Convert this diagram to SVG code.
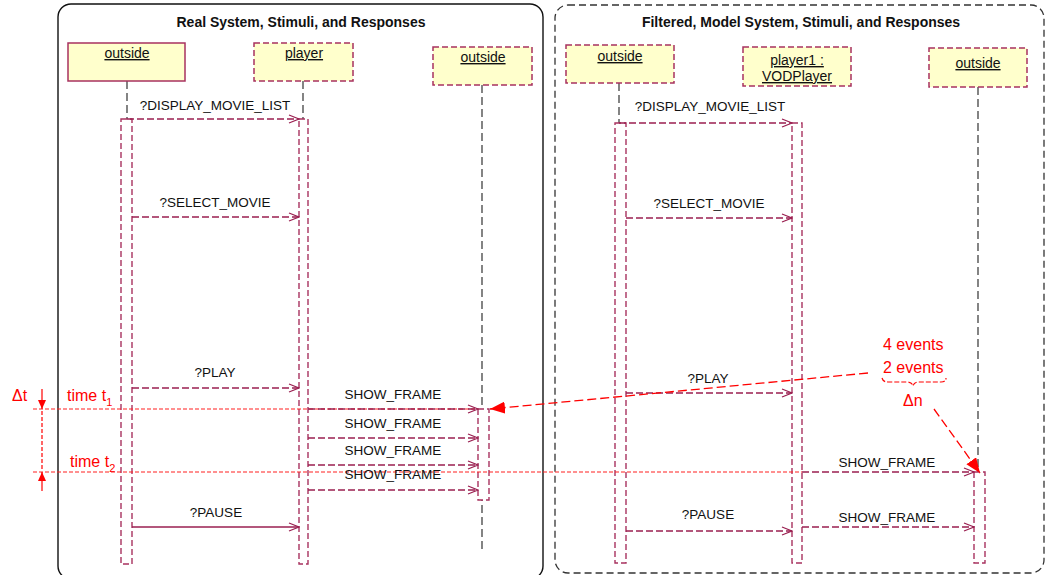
<svg xmlns="http://www.w3.org/2000/svg" width="1047" height="575" viewBox="0 0 1047 575">
<defs>
<style>
.title{font-family:"Liberation Sans",Arial,sans-serif;font-size:14px;font-weight:bold;fill:#111;text-anchor:middle}
.nl{font-family:"Liberation Sans",Arial,sans-serif;font-size:14px;fill:#111;text-anchor:middle;text-decoration:underline}
.ml{font-family:"Liberation Sans",Arial,sans-serif;font-size:13.5px;fill:#111;text-anchor:middle}
.red{font-family:"Liberation Sans",Arial,sans-serif;font-size:16px;fill:#ff0000}
.box{fill:#ffffcc;stroke:#a8325f;stroke-width:1.5;stroke-dasharray:6 3}
.boxs{fill:#ffffcc;stroke:#a8325f;stroke-width:1.5}
.life{fill:none;stroke:#333;stroke-width:1.2;stroke-dasharray:8 4}
.act{fill:#fff;stroke:#a8325f;stroke-width:1.4;stroke-dasharray:6 3}
.msg{fill:none;stroke:#9a1f50;stroke-width:1.3;stroke-dasharray:7 3}
.msgs{fill:none;stroke:#9a1f50;stroke-width:1.3}
.tl{fill:none;stroke:#ff2020;stroke-width:1.2;stroke-dasharray:4 2}
.ra{fill:none;stroke:#ff0000;stroke-width:1.3;stroke-dasharray:9 4}
</style>
<marker id="open" markerWidth="12" markerHeight="10" refX="11" refY="5" orient="auto" markerUnits="userSpaceOnUse">
<path d="M1,1 L11,5 L1,9" fill="none" stroke="#9a1f50" stroke-width="1.3"/>
</marker>
<marker id="fill" markerWidth="16" markerHeight="12" refX="15" refY="6" orient="auto" markerUnits="userSpaceOnUse">
<path d="M0,0 L15,6 L0,12 Z" fill="#ff0000"/>
</marker>
<marker id="fills" markerWidth="10" markerHeight="10" refX="9" refY="5" orient="auto" markerUnits="userSpaceOnUse">
<path d="M0,1 L9,5 L0,9 Z" fill="#ff0000"/>
</marker>
</defs>
<rect width="1047" height="575" fill="#fff"/>

<!-- frames -->
<g id="frame-real">
<rect x="58" y="4" width="485" height="575" rx="13" ry="13" fill="none" stroke="#111" stroke-width="1.4"/>
<text class="title" x="301" y="27">Real System, Stimuli, and Responses</text>
</g>
<g id="frame-model">
<rect x="555" y="5" width="489" height="568" rx="13" ry="13" fill="none" stroke="#333" stroke-width="1.3" stroke-dasharray="7 4"/>
<text class="title" x="801" y="27">Filtered, Model System, Stimuli, and Responses</text>
</g>

<!-- lifelines -->
<g id="lifelines">
<line class="life" x1="127" y1="81" x2="127" y2="120"/>
<line class="life" x1="303" y1="81" x2="303" y2="120"/>
<line class="life" x1="482" y1="85" x2="482" y2="550"/>
<line class="life" x1="619" y1="83" x2="619" y2="123"/>
<line class="life" x1="978" y1="87" x2="978" y2="472"/>
</g>

<!-- nodes -->
<g id="n-outside-real-1"><rect class="boxs" x="68" y="43" width="117" height="38"/><text class="nl" x="127" y="58">outside</text></g>
<g id="n-player"><rect class="box" x="254" y="43" width="99" height="38"/><text class="nl" x="304" y="58">player</text></g>
<g id="n-outside-real-2"><rect class="box" x="433" y="47" width="99" height="38"/><text class="nl" x="483" y="62">outside</text></g>
<g id="n-outside-model-1"><rect class="box" x="566" y="45" width="108" height="38"/><text class="nl" x="620" y="61">outside</text></g>
<g id="n-player1"><rect class="box" x="743" y="47" width="108" height="39"/><text class="nl" x="797" y="65">player1 :</text><text class="nl" x="797" y="81">VODPlayer</text></g>
<g id="n-outside-model-2"><rect class="box" x="929" y="48" width="98" height="39"/><text class="nl" x="978" y="68">outside</text></g>

<!-- activations -->
<g id="activations">
<rect class="act" x="121" y="119" width="11" height="445"/>
<rect class="act" x="299" y="119" width="9" height="445"/>
<rect class="act" x="478" y="409" width="11" height="91"/>
<rect class="act" x="615" y="123" width="11" height="440"/>
<rect class="act" x="792" y="123" width="10" height="440"/>
<rect class="act" x="974" y="472" width="11" height="91"/>
</g>

<!-- time lines -->
<g id="time-lines">
<line class="tl" x1="33" y1="409" x2="478" y2="409"/>
<line class="tl" x1="33" y1="472" x2="802" y2="472"/>
</g>

<!-- connectors -->
<g id="connectors">
<line class="msg" x1="127" y1="119" x2="299" y2="119" marker-end="url(#open)"/>
<line class="msg" x1="132" y1="217" x2="299" y2="217" marker-end="url(#open)"/>
<line class="msg" x1="132" y1="388" x2="299" y2="388" marker-end="url(#open)"/>
<line class="msg" x1="308" y1="409" x2="478" y2="409" marker-end="url(#open)"/>
<line class="msg" x1="308" y1="438" x2="478" y2="438" marker-end="url(#open)"/>
<line class="msg" x1="308" y1="465" x2="478" y2="465" marker-end="url(#open)"/>
<line class="msg" x1="308" y1="490" x2="478" y2="490" marker-end="url(#open)"/>
<line class="msgs" x1="132" y1="527" x2="299" y2="527" marker-end="url(#open)"/>

<line class="msg" x1="619" y1="123" x2="792" y2="123" marker-end="url(#open)"/>
<line class="msg" x1="626" y1="218" x2="792" y2="218" marker-end="url(#open)"/>
<line class="msg" x1="626" y1="393" x2="792" y2="393" marker-end="url(#open)"/>
<line class="msg" x1="626" y1="531" x2="792" y2="531" marker-end="url(#open)"/>
<line class="msg" x1="802" y1="472" x2="974" y2="472" marker-end="url(#open)"/>
<line class="msg" x1="802" y1="527" x2="974" y2="527" marker-end="url(#open)"/>

<text class="ml" x="215" y="110">?DISPLAY_MOVIE_LIST</text>
<text class="ml" x="215" y="207">?SELECT_MOVIE</text>
<text class="ml" x="215" y="377">?PLAY</text>
<text class="ml" x="393" y="399">SHOW_FRAME</text>
<text class="ml" x="393" y="428">SHOW_FRAME</text>
<text class="ml" x="393" y="455">SHOW_FRAME</text>
<text class="ml" x="393" y="479">SHOW_FRAME</text>
<text class="ml" x="216" y="517">?PAUSE</text>

<text class="ml" x="710" y="111">?DISPLAY_MOVIE_LIST</text>
<text class="ml" x="709" y="208">?SELECT_MOVIE</text>
<text class="ml" x="708" y="383">?PLAY</text>
<text class="ml" x="708" y="519">?PAUSE</text>
<text class="ml" x="887" y="467">SHOW_FRAME</text>
<text class="ml" x="887" y="522">SHOW_FRAME</text>
</g>

<!-- annotations -->
<g id="annotations">
<text class="red" x="12" y="401" font-size="18">Δt</text>
<line x1="42" y1="389" x2="42" y2="409" stroke="#ff0000" stroke-width="1.2" marker-end="url(#fills)"/>
<line x1="42" y1="491" x2="42" y2="472" stroke="#ff0000" stroke-width="1.2" marker-end="url(#fills)"/>
<line x1="42" y1="411" x2="42" y2="470" stroke="#ff0000" stroke-width="1.2" stroke-dasharray="4 2"/>
<text class="red" x="67" y="401">time t<tspan font-size="11" dy="5">1</tspan></text>
<text class="red" x="70" y="467">time t<tspan font-size="11" dy="5">2</tspan></text>

<text class="red" x="883" y="350" font-size="16.5">4 events</text>
<text class="red" x="883" y="373" font-size="16.5">2 events</text>
<path d="M882,378 Q883,382 888,382 L907,382 Q912,382 913,386 Q914,382 919,382 L941,382 Q946,382 946,378" fill="none" stroke="#ff0000" stroke-width="1.2" stroke-dasharray="5 2"/>
<text class="red" x="903" y="406" font-size="18">Δn</text>
<line class="ra" x1="868" y1="373" x2="490" y2="409" marker-end="url(#fill)"/>
<line class="ra" x1="934" y1="409" x2="980" y2="473" marker-end="url(#fill)"/>
</g>
</svg>
